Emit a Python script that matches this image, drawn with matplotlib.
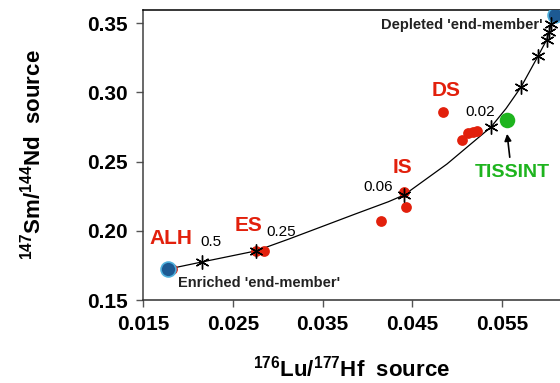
import matplotlib
matplotlib.use("Agg")
import matplotlib.pyplot as plt

plt.rcParams["font.family"] = ["Liberation Sans", "DejaVu Sans"]
plt.rcParams["mathtext.fontset"] = "custom"
plt.rcParams["mathtext.rm"] = "Liberation Sans"
plt.rcParams["mathtext.bf"] = "Liberation Sans:bold"

# mixing curve
curva_x = [0.01779, 0.02155, 0.02758, 0.03118, 0.03491, 0.03863, 0.04234, 0.04410,
           0.04889, 0.05380, 0.05548, 0.05715, 0.05905, 0.06000, 0.06028, 0.06050, 0.06090]
curva_y = [0.1724, 0.1775, 0.1855, 0.1939, 0.2030, 0.2121, 0.2210, 0.2259,
           0.2483, 0.2750, 0.2884, 0.3039, 0.3263, 0.3379, 0.3436, 0.3494, 0.3559]

# mixing steps (asterisks)
passo_x = [0.02155, 0.02758, 0.04410, 0.05380, 0.05715, 0.05905, 0.06000, 0.06028, 0.06050]
passo_y = [0.1775, 0.1855, 0.2259, 0.2750, 0.3039, 0.3263, 0.3379, 0.3436, 0.3494]
passo_rotulos = ["0.5", "0.25", "0.06", "0.02"]

# end-members
membro_x = [0.01779, 0.06090]
membro_y = [0.1724, 0.3559]

# shergottites
amostra_x = [0.0182, 0.0276, 0.0285, 0.04413, 0.04428, 0.04149,
             0.04841, 0.05053, 0.05127, 0.05183, 0.05228]
amostra_y = [0.1724, 0.1855, 0.1855, 0.2278, 0.2170, 0.2073,
             0.2856, 0.2656, 0.2704, 0.2716, 0.2723]

tissint_x = [0.05556]
tissint_y = [0.2801]

xticks = [0.015, 0.025, 0.035, 0.045, 0.055]
yticks = [0.15, 0.20, 0.25, 0.30, 0.35]

VERMELHO = "#e2200c"
VERDE = "#1eb41e"

fig = plt.figure(figsize=(5.6, 3.83), dpi=100)
ax = fig.add_axes([0.2559, 0.2167, 0.7441, 0.7572])

ax.plot(curva_x, curva_y, color="black", lw=0.9, zorder=2)
ax.scatter(amostra_x, amostra_y, s=60, color=VERMELHO, zorder=3, linewidths=0)
ax.scatter(tissint_x, tissint_y, s=125, color=VERDE, zorder=3, linewidths=0)
ax.scatter(membro_x, membro_y, s=115, color="#1d5a93", edgecolors="#4fb0dc",
           linewidths=1.2, zorder=4)
ax.plot(passo_x, passo_y, ls="none", marker=(6, 2, 0), ms=10, mec="black",
        mew=1.0, zorder=5)

# step labels
pos_rotulos = [(0.02256, 0.1919), (0.03037, 0.1991), (0.04119, 0.2316), (0.05258, 0.2858)]
for txt, (px, py) in zip(passo_rotulos, pos_rotulos):
    ax.text(px, py, txt, fontsize=11, ha="center", va="center")

ax.text(0.01809, 0.1948, "ALH", color=VERMELHO, fontsize=15, fontweight="bold",
        ha="center", va="center")
ax.text(0.02674, 0.2035, "ES", color=VERMELHO, fontsize=15, fontweight="bold",
        ha="center", va="center")
ax.text(0.04393, 0.2457, "IS", color=VERMELHO, fontsize=15, fontweight="bold",
        ha="center", va="center")
ax.text(0.04878, 0.3017, "DS", color=VERMELHO, fontsize=15, fontweight="bold",
        ha="center", va="center")
ax.text(0.05615, 0.2425, "TISSINT", color=VERDE, fontsize=14, fontweight="bold",
        ha="center", va="center", clip_on=False)
ax.annotate("", xy=(0.05556, 0.2721), xytext=(0.05593, 0.2512),
            arrowprops=dict(arrowstyle="-|>", color="black", lw=1.2,
                            mutation_scale=10))
ax.text(0.02797, 0.1623, "Enriched 'end-member'", fontsize=10.5, fontweight="bold",
        ha="center", va="center", color="#222222")
ax.text(0.05057, 0.3487, "Depleted 'end-member'", fontsize=10.5, fontweight="bold",
        ha="center", va="center", color="#222222")

ax.set_xlim(0.015, 0.0615)
ax.set_ylim(0.15, 0.3596)
ax.set_xticks(xticks)
ax.set_xticklabels([f"{v:.3f}" for v in xticks])
ax.set_yticks(yticks)
ax.set_yticklabels([f"{v:.2f}" for v in yticks])
ax.tick_params(axis="both", direction="out", length=5, width=1, color="#555555",
               labelsize=15, pad=6)
for lab in ax.get_xticklabels() + ax.get_yticklabels():
    lab.set_fontweight("bold")

ax.spines["right"].set_visible(False)
for s in ["left", "bottom", "top"]:
    ax.spines[s].set_linewidth(1.1)
ax.spines["left"].set_color("#404040")
ax.spines["bottom"].set_color("#303030")
ax.spines["top"].set_color("black")

ax.set_xlabel(r"$\mathbf{^{176}Lu/^{177}Hf}$  source", fontsize=16,
              fontweight="bold", labelpad=15)
ax.set_ylabel(r"$\mathbf{^{147}Sm/^{144}Nd}$  source", fontsize=16,
              fontweight="bold", labelpad=30)

fig.savefig("out.png", dpi=100)
